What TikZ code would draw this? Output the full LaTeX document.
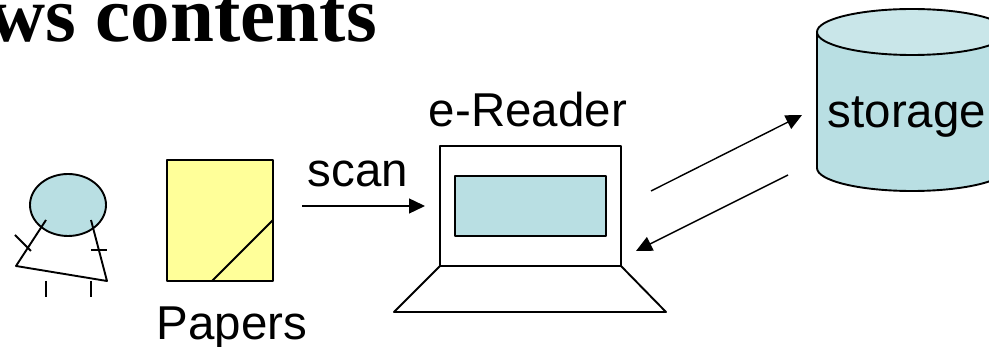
\documentclass[tikz,border=0pt]{standalone}
\usepackage{fontspec}
\setmainfont{Liberation Sans}
\newfontfamily\titlefont{Liberation Serif}
\definecolor{tealfill}{HTML}{B9DFE3}
\definecolor{tealtop}{HTML}{C9E6E9}
\definecolor{paperfill}{HTML}{FFFF99}
\usetikzlibrary{arrows.meta}
\tikzset{
  outline/.style={draw=black,line width=1.9pt,line join=round},
  flow/.style={draw=black,line width=1.4pt,-{Triangle[length=16pt,width=15pt]}},
  label text/.style={inner sep=0pt,anchor=base,font=\fontsize{47.5}{50}\selectfont},
}
\begin{document}
\begin{tikzpicture}[x=1pt,y=-1pt]
\useasboundingbox (0,0) rectangle (989,347);
\clip (0,0) rectangle (989,347);
\node[inner sep=0pt,anchor=base east,font=\titlefont\bfseries\fontsize{79}{84}\selectfont] (title) at (377,42) {ws contents};
% person
\draw[outline,fill=tealfill] (68,205) ellipse [x radius=38,y radius=31];
\coordinate (armL) at (46,220); \coordinate (hipL) at (16,266);
\coordinate (hipR) at (107,281); \coordinate (armR) at (91,220);
\draw[outline] (armL) -- (hipL) -- (hipR) -- (armR);
\draw[outline] (15,235) -- (31,251);
\draw[outline] (91,250) -- (107,250);
\draw[outline] (46,281) -- (46,297);
\draw[outline] (91,281) -- (91,297);
% paper
\draw[outline,fill=paperfill] (167,160) rectangle (273,281);
\draw[outline] (212,281) -- (273,220);
\node[label text] (papers) at (232,340) {Papers};
% scan
\node[label text] (scan) at (358,187) {scan};
\coordinate (scanA) at (302,206); \coordinate (scanB) at (425,206);
\draw[flow] (scanA) -- (scanB);
% laptop
\node[label text] (ereader) at (528,127) {e-Reader};
\draw[outline] (440,146) rectangle (621,266);
\draw[outline,fill=tealfill] (455,176) rectangle (606,236);
\draw[outline] (440,266) -- (394,312) -- (666,312) -- (621,266);
% storage
\draw[outline,fill=tealfill] (817,32) -- (817,168) arc [start angle=180,end angle=0,x radius=95,y radius=23] -- (1007,32) -- cycle;
\draw[outline,fill=tealtop] (912,32) ellipse [x radius=95,y radius=23];
\node[label text] (storage) at (907,128) {storage};
% transfer arrows
\coordinate (upA) at (651,191); \coordinate (upB) at (802,115);
\coordinate (downA) at (788,175); \coordinate (downB) at (636,251);
\draw[flow] (upA) -- (upB);
\draw[flow] (downA) -- (downB);
\end{tikzpicture}
\end{document}
